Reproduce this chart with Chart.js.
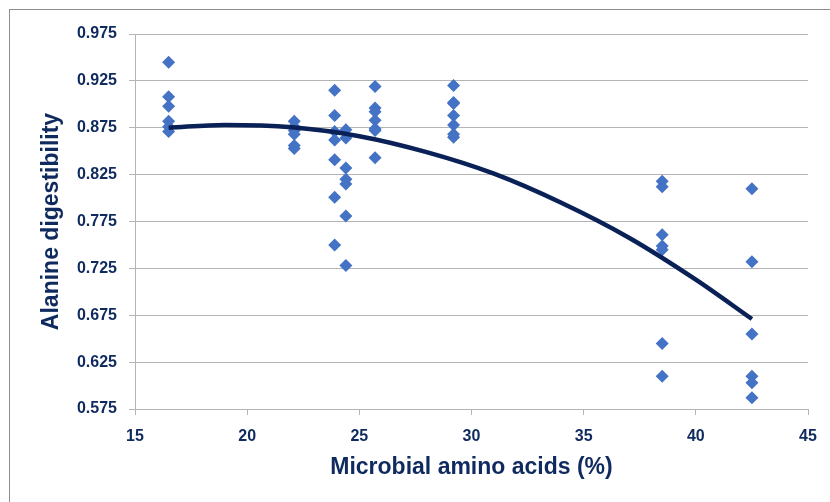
<!DOCTYPE html>
<html>
<head>
<meta charset="utf-8">
<script src="https://cdn.jsdelivr.net/npm/chart.js@4/dist/chart.umd.min.js"></script>
<style>
    body{ margin:0; background:#fff; overflow:hidden; }
    #wrap{ position:relative; width:830px; height:502px; }
    #frame{ position:absolute; left:9px; top:9px; width:900px; height:600px; border:1px solid #8c8c8c; }
    #myChart{ position:absolute; left:0; top:0; }
</style>
</head>
<body>
<div id="wrap">
    <div id="frame"></div>
    <canvas id="myChart" width="830" height="502"></canvas>
</div>
<script>
// measured points (x = microbial AA %, y = alanine digestibility)
const microbialAA = [
    16.5, 16.5, 16.5, 16.5, 16.5, 16.5,
    22.1, 22.1, 22.1, 22.1, 22.1, 22.1,
    23.9, 23.9, 23.9, 23.9, 23.9, 23.9, 23.9,
    24.4, 24.4, 24.4, 24.4, 24.4, 24.4, 24.4,
    25.7, 25.7, 25.7, 25.7, 25.7, 25.7, 25.7,
    29.2, 29.2, 29.2, 29.2, 29.2, 29.2, 29.2,
    38.5, 38.5, 38.5, 38.5, 38.5, 38.5, 38.5,
    42.5, 42.5, 42.5, 42.5, 42.5, 42.5
]
const alanineDig = [
    0.945, 0.908, 0.898, 0.882, 0.876, 0.871,
    0.882, 0.876, 0.872, 0.868, 0.856, 0.853,
    0.915, 0.888, 0.871, 0.862, 0.841, 0.801, 0.750,
    0.873, 0.864, 0.832, 0.820, 0.815, 0.781, 0.728,
    0.919, 0.896, 0.892, 0.883, 0.874, 0.872, 0.843,
    0.920, 0.902, 0.901, 0.888, 0.878, 0.868, 0.865,
    0.818, 0.812, 0.761, 0.749, 0.745, 0.645, 0.610,
    0.810, 0.732, 0.655, 0.610, 0.603, 0.587
]

// trend line
const trendX = [16.5, 19, 22, 25, 28, 31, 34, 37, 40, 42.5]
const trendY = [0.875, 0.878, 0.8755, 0.866, 0.849, 0.826, 0.795, 0.758, 0.713, 0.671]

const yTicks = [0.575, 0.625, 0.675, 0.725, 0.775, 0.825, 0.875, 0.925, 0.975]
const xTicks = [15, 20, 25, 30, 35, 40, 45]

const textColor = '#0f2a5e'
const gridColor = '#b4b4b4'

const ctx = document.getElementById('myChart').getContext('2d');
const myChart = new Chart(ctx, {
    type: 'scatter',
    data: {
        datasets: [{
            data: microbialAA.map((x, i) => ({x: x, y: alanineDig[i]})),
            pointStyle: 'rectRot',
            pointRadius: 6.5,
            backgroundColor: '#4472c4',
            borderColor: '#4472c4',
            borderWidth: 0,
            order: 2
        }, {
            type: 'line',
            data: trendX.map((x, i) => ({x: x, y: trendY[i]})),
            borderColor: '#0a2158',
            borderWidth: 4.5,
            pointRadius: 0,
            cubicInterpolationMode: 'monotone',
            fill: false,
            order: 1
        }]
    },
    options: {
        responsive: false,
        animation: false,
        layout: {
            padding: {left: 0, top: 34, right: 22, bottom: 0}
        },
        plugins: {
            legend: { display: false },
            tooltip: { enabled: false }
        },
        scales: {
            x: {
                type: 'linear',
                min: 15,
                max: 45,
                afterBuildTicks: (scale) => { scale.ticks = xTicks.map(v => ({value: v})) },
                afterFit: (scale) => { scale.height = 93 },
                ticks: {
                    color: textColor,
                    font: {family: 'Liberation Sans, Arial', size: 16, weight: 'bold'},
                    padding: 12,
                    maxRotation: 0
                },
                grid: {
                    color: 'rgba(0,0,0,0)',
                    tickColor: gridColor,
                    tickLength: 6,
                    drawTicks: true
                },
                border: { display: true, color: gridColor },
                title: {
                    display: true,
                    text: 'Microbial amino acids (%)',
                    color: textColor,
                    font: {family: 'Liberation Sans, Arial', size: 23, weight: 'bold'},
                    padding: {top: 0, bottom: 21}
                }
            },
            y: {
                min: 0.575,
                max: 0.975,
                afterBuildTicks: (scale) => { scale.ticks = yTicks.map(v => ({value: v})) },
                afterFit: (scale) => { scale.width = 135 },
                ticks: {
                    color: textColor,
                    font: {family: 'Liberation Sans, Arial', size: 16, weight: 'bold'},
                    padding: 12,
                    callback: (v) => v.toFixed(3)
                },
                grid: {
                    color: gridColor,
                    tickColor: gridColor,
                    tickLength: 6
                },
                border: { display: true, color: gridColor },
                title: {
                    display: true,
                    text: 'Alanine digestibility',
                    color: textColor,
                    font: {family: 'Liberation Sans, Arial', size: 23, weight: 'bold'},
                    padding: {top: 38, bottom: 0}
                }
            }
        }
    }
});
</script>
</body>
</html>
